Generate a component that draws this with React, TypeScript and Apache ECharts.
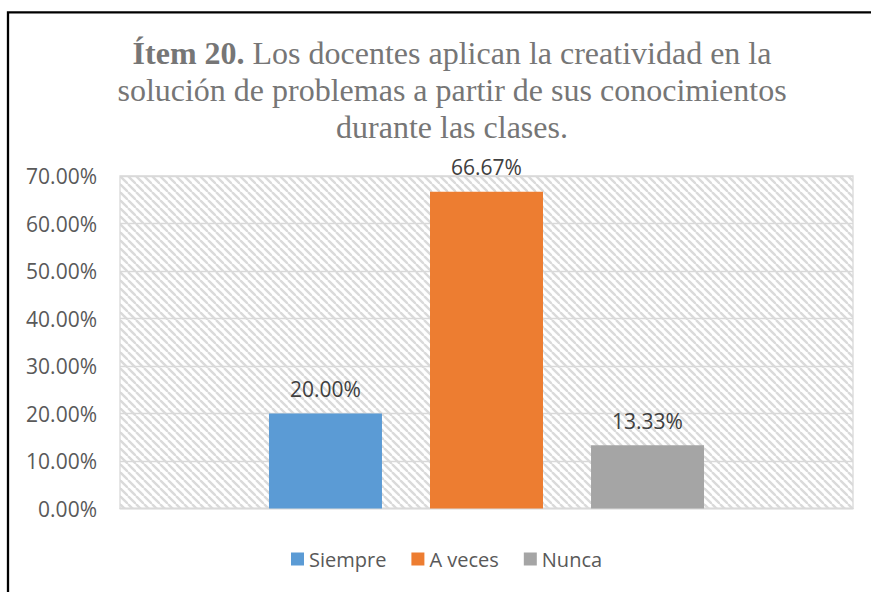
import React, { useEffect, useRef } from "react";
import * as echarts from "echarts";

const seriesNames = ["Siempre", "A veces", "Nunca"];
const seriesValues = [20.0, 66.67, 13.33];
const seriesColors = ["#5b9bd5", "#ed7d31", "#a5a5a5"];
const categories = [""];
const yTicks = { min: 0, max: 70, interval: 10 };

function makeHatch(): HTMLCanvasElement {
  const c = document.createElement("canvas");
  c.width = 8;
  c.height = 8;
  const ctx = c.getContext("2d")!;
  ctx.fillStyle = "#ffffff";
  ctx.fillRect(0, 0, 8, 8);
  ctx.strokeStyle = "#dadada";
  ctx.lineWidth = 2.4;
  for (let x = -8; x <= 8; x += 8) {
    ctx.beginPath();
    ctx.moveTo(x, 0);
    ctx.lineTo(x + 8, 8);
    ctx.stroke();
  }
  return c;
}

export default function App() {
  const ref = useRef<HTMLDivElement>(null);
  useEffect(() => {
    if (!ref.current) return;
    const chart = echarts.init(ref.current, null, { renderer: "svg" });
    const font = "'Open Sans', sans-serif";
    const serif = "'Liberation Serif', 'Times New Roman', serif";
    chart.setOption({
      animation: false,
      backgroundColor: "#ffffff",
      graphic: [
        {
          type: "rect",
          shape: { x: 8, y: 12.3, width: 1000, height: 1000 },
          style: { fill: "none", stroke: "#000000", lineWidth: 2.3 },
          silent: true,
        },
      ],
      title: {
        text:
          "{b|Ítem 20.} Los docentes aplican la creatividad en la\nsolución de problemas a partir de sus conocimientos\ndurante las clases.",
        left: 447,
        top: 29,
        textAlign: "center",
        textStyle: {
          fontFamily: serif,
          fontSize: 32,
          fontWeight: "normal",
          color: "#767676",
          lineHeight: 37,
          rich: {
            b: {
              fontFamily: serif,
              fontSize: 32,
              fontWeight: "bold",
              color: "#767676",
              lineHeight: 37,
            },
          },
        },
      },
      legend: {
        data: seriesNames,
        left: 286,
        top: 544,
        icon: "rect",
        itemWidth: 13,
        itemHeight: 13,
        itemGap: 25,
        textStyle: { fontFamily: font, fontSize: 20, color: "#595959" },
      },
      grid: {
        left: 120,
        right: 18,
        top: 176,
        bottom: 83.5,
        show: true,
        borderColor: "#d9d9d9",
        borderWidth: 1.3,
        backgroundColor: { image: makeHatch(), repeat: "repeat" },
      },
      xAxis: {
        type: "category",
        data: categories,
        axisLine: { show: true, lineStyle: { color: "#d9d9d9", width: 1.3 } },
        axisTick: { show: false },
        axisLabel: { show: false },
      },
      yAxis: {
        type: "value",
        min: yTicks.min,
        max: yTicks.max,
        interval: yTicks.interval,
        axisLine: { show: false },
        axisTick: { show: false },
        axisLabel: {
          fontFamily: font,
          fontSize: 21,
          color: "#595959",
          margin: 23,
          formatter: (v: number) => v.toFixed(2) + "%",
        },
        splitLine: { lineStyle: { color: "#d9d9d9", width: 1.3 } },
      },
      series: seriesNames.map((name, i) => ({
        name,
        type: "bar",
        data: [seriesValues[i]],
        barWidth: 113,
        barGap: "42.5%",
        itemStyle: { color: seriesColors[i] },
        label: {
          show: true,
          position: "top",
          distance: 14,
          fontFamily: font,
          fontSize: 21,
          color: "#404040",
          formatter: (p: any) => Number(p.value).toFixed(2) + "%",
        },
      })),
    });
    return () => chart.dispose();
  }, []);
  return (
    <div
      ref={ref}
      style={{ position: "fixed", left: 0, top: 0, width: 871, height: 592 }}
    />
  );
}
